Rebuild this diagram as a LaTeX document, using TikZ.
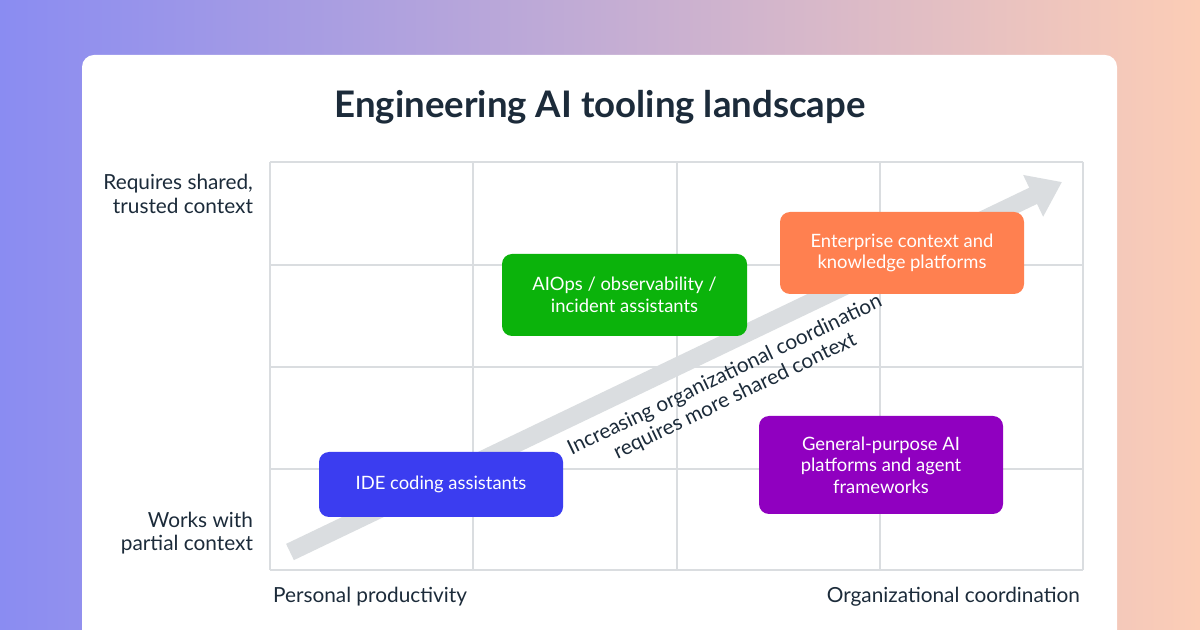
\documentclass[tikz,border=0pt]{standalone}
\usepackage{fontspec}
\setmainfont{Lato}
\usetikzlibrary{arrows.meta}
\definecolor{bgblue}{HTML}{8A8CF2}
\definecolor{bgpeach}{HTML}{FCCDB6}
\definecolor{titlec}{HTML}{1C2B3A}
\definecolor{gridc}{HTML}{DADDE0}
\definecolor{ideblue}{HTML}{3B3DF0}
\definecolor{opsgreen}{HTML}{0BB30B}
\definecolor{entorange}{HTML}{FF8050}
\definecolor{genpurple}{HTML}{9000C0}
\tikzset{
  toolbox/.style={rounded corners=5pt, draw=none, text=white, align=center,
    font=\fontsize{9.2pt}{10.8pt}\selectfont},
  axislabel/.style={text=titlec, font=\fontsize{10.4pt}{11.8pt}\selectfont}
}
\begin{document}
\begin{tikzpicture}[x=0.5pt,y=-0.5pt]
\useasboundingbox (0,0) rectangle (1200,630);
% background
\shade[left color=bgblue, right color=bgpeach] (0,0) rectangle (1200,630);
\fill[white, rounded corners=6pt] (82,55) rectangle (1117,660);
\node (title) at (600,107) {\fontsize{18.3pt}{20pt}\selectfont\bfseries\color{titlec}Engineering AI tooling landscape};
% grid
\foreach \x in {270,473,677,880,1083} \draw[gridc, line width=0.6pt] (\x,162) -- (\x,570);
\foreach \y in {162,265,367,469,570} \draw[gridc, line width=0.6pt] (270,\y) -- (1083,\y);
% trend arrow
\coordinate (arrs) at (290,552);
\coordinate (arre) at (1062,182);
\draw[gridc, line width=9pt, -{Triangle[length=16pt,width=22pt]}] (arrs) -- (arre);
\node[axislabel, rotate=25.6, align=center] (trend) at (730,386) {Increasing organizational coordination\\requires more shared context};
% tools
\node[toolbox, fill=ideblue, minimum width=122pt, minimum height=32.5pt] (ide) at (441,484.5) {IDE coding assistants};
\node[toolbox, fill=opsgreen, minimum width=122.5pt, minimum height=41pt] (ops) at (624.5,295) {AIOps / observability /\\incident assistants};
\node[toolbox, fill=entorange, minimum width=122pt, minimum height=41pt] (ent) at (902,253) {Enterprise context and\\knowledge platforms};
\node[toolbox, fill=genpurple, minimum width=122pt, minimum height=49pt] (gen) at (881,465) {General-purpose AI\\platforms and agent\\frameworks};
% axis labels
\node[axislabel, align=right, anchor=east] (yhigh) at (260,194) {Requires shared,\\trusted context};
\node[axislabel, align=right, anchor=east] (ylow) at (260,533) {Works with\\partial context};
\node[axislabel, anchor=west] (xlow) at (266,597) {Personal productivity};
\node[axislabel, anchor=east] (xhigh) at (1087,597) {Organizational coordination};
\end{tikzpicture}
\end{document}
